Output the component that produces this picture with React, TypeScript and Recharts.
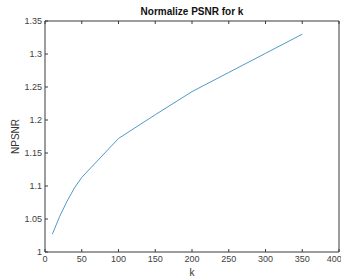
import React from 'react'
import {
    LineChart,
    Line,
    XAxis,
    YAxis,
} from 'recharts';

const kValues = [10, 20, 30, 40, 50, 100, 150, 200, 250, 300, 350];
const npsnrValues = [1.027, 1.054, 1.077, 1.097, 1.113, 1.172, 1.208, 1.243, 1.272, 1.301, 1.330];
const xTicks = [0, 50, 100, 150, 200, 250, 300, 350, 400];
const yTicks = [1, 1.05, 1.1, 1.15, 1.2, 1.25, 1.3, 1.35];

const data = kValues.map((k, i) => ({ k, npsnr: npsnrValues[i] }));

const font = '"Liberation Sans", Arial, sans-serif';
const axisColor = '#3a3a3a';
const tickStyle = { fill: '#404040', fontSize: 9, fontFamily: font };

const fmt = (v: number) => String(Number(v.toFixed(2)));

export default function App() {
    return (
        <div style={{ position: 'absolute', left: 0, top: 0, width: 341, height: 278, background: '#fff' }}>
            <div style={{
                position: 'absolute', left: 45, width: 294, top: 6, textAlign: 'center',
                fontFamily: font, fontWeight: 'bold', fontSize: 10, color: '#111', lineHeight: '12px',
            }}>
                Normalize PSNR for k
            </div>
            <LineChart width={341} height={278} data={data} margin={{ top: 20, right: 1, left: 0, bottom: 0 }}>
                <XAxis
                    dataKey="k" type="number" domain={[0, 400]} ticks={xTicks}
                    height={26} tickSize={-3} tickMargin={7}
                    stroke={axisColor} tick={tickStyle}
                    label={{ value: 'k', position: 'insideBottom', offset: 2, fill: '#333', fontSize: 10, fontFamily: font }}
                />
                <XAxis
                    xAxisId="top" orientation="top" dataKey="k" type="number" domain={[0, 400]} ticks={xTicks}
                    height={1} tickSize={-3} stroke={axisColor} tickFormatter={() => ''}
                />
                <YAxis
                    type="number" domain={[1, 1.35]} ticks={yTicks} width={45}
                    tickSize={-3} tickMargin={6} stroke={axisColor} tick={tickStyle} tickFormatter={fmt}
                    label={{ value: 'NPSNR', angle: -90, position: 'center', dx: -7, fill: '#333', fontSize: 10, fontFamily: font }}
                />
                <YAxis
                    yAxisId="right" orientation="right" type="number" domain={[1, 1.35]} ticks={yTicks}
                    width={1} tickSize={-3} stroke={axisColor} tickFormatter={() => ''}
                />
                <Line
                    type="linear" dataKey="npsnr" stroke="#4f9bc9" strokeWidth={1}
                    dot={false} isAnimationActive={false}
                />
            </LineChart>
        </div>
    )
}
